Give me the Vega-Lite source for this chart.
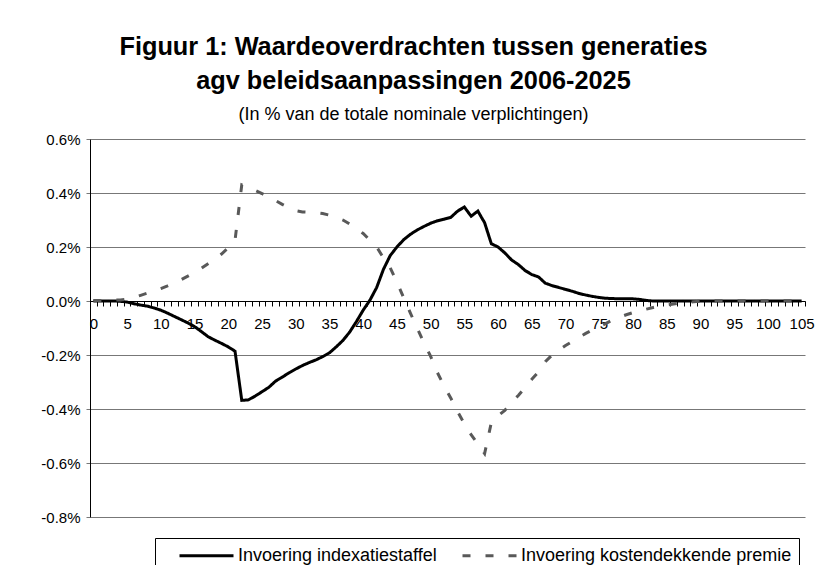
{
  "$schema": "https://vega.github.io/schema/vega-lite/v6.json",
  "width": 715,
  "height": 378,
  "autosize": {"type": "none"},
  "padding": {"left": 90, "top": 139, "right": 20, "bottom": 48},
  "background": "white",
  "title": {
    "text": ["Figuur 1: Waardeoverdrachten tussen generaties", "agv beleidsaanpassingen 2006-2025"],
    "subtitle": "(In % van de totale nominale verplichtingen)",
    "anchor": "middle",
    "frame": "group",
    "dx": -34,
    "font": "Liberation Sans",
    "fontSize": 25.3,
    "fontWeight": "bold",
    "color": "#000000",
    "lineHeight": 34,
    "subtitleFont": "Liberation Sans",
    "subtitleFontSize": 18,
    "subtitleColor": "#000000",
    "subtitlePadding": 12,
    "offset": 8
  },
  "data": {"values": [
    {"x":0,"A":0,"B":0.002},{"x":1,"A":0,"B":0.002},{"x":2,"A":0,"B":0.002},{"x":3,"A":0,"B":0.003},{"x":4,"A":-0.001,"B":0.004},
    {"x":5,"A":-0.004,"B":0.007},{"x":6,"A":-0.01,"B":0.013},{"x":7,"A":-0.015,"B":0.021},{"x":8,"A":-0.019,"B":0.029},{"x":9,"A":-0.026,"B":0.037},
    {"x":10,"A":-0.034,"B":0.046},{"x":11,"A":-0.045,"B":0.056},{"x":12,"A":-0.057,"B":0.067},{"x":13,"A":-0.069,"B":0.079},{"x":14,"A":-0.081,"B":0.092},
    {"x":15,"A":-0.095,"B":0.106},{"x":16,"A":-0.113,"B":0.121},{"x":17,"A":-0.132,"B":0.138},{"x":18,"A":-0.145,"B":0.155},{"x":19,"A":-0.157,"B":0.174},
    {"x":20,"A":-0.17,"B":0.197},{"x":21,"A":-0.186,"B":0.225},{"x":22,"A":-0.368,"B":0.43},{"x":23,"A":-0.366,"B":0.42},{"x":24,"A":-0.352,"B":0.41},
    {"x":25,"A":-0.336,"B":0.398},{"x":26,"A":-0.32,"B":0.385},{"x":27,"A":-0.297,"B":0.372},{"x":28,"A":-0.282,"B":0.358},{"x":29,"A":-0.266,"B":0.345},
    {"x":30,"A":-0.252,"B":0.335},{"x":31,"A":-0.239,"B":0.33},{"x":32,"A":-0.228,"B":0.329},{"x":33,"A":-0.218,"B":0.327},{"x":34,"A":-0.206,"B":0.324},
    {"x":35,"A":-0.192,"B":0.318},{"x":36,"A":-0.17,"B":0.31},{"x":37,"A":-0.146,"B":0.3},{"x":38,"A":-0.115,"B":0.285},{"x":39,"A":-0.076,"B":0.268},
    {"x":40,"A":-0.034,"B":0.25},{"x":41,"A":0.003,"B":0.225},{"x":42,"A":0.05,"B":0.2},{"x":43,"A":0.117,"B":0.16},{"x":44,"A":0.168,"B":0.123},
    {"x":45,"A":0.2,"B":0.07},{"x":46,"A":0.227,"B":0.012},{"x":47,"A":0.247,"B":-0.045},{"x":48,"A":0.263,"B":-0.1},{"x":49,"A":0.276,"B":-0.155},
    {"x":50,"A":0.288,"B":-0.205},{"x":51,"A":0.297,"B":-0.265},{"x":52,"A":0.303,"B":-0.315},{"x":53,"A":0.31,"B":-0.36},{"x":54,"A":0.333,"B":-0.41},
    {"x":55,"A":0.348,"B":-0.455},{"x":56,"A":0.314,"B":-0.495},{"x":57,"A":0.333,"B":-0.53},{"x":58,"A":0.29,"B":-0.565},{"x":59,"A":0.212,"B":-0.45},
    {"x":60,"A":0.2,"B":-0.425},{"x":61,"A":0.178,"B":-0.405},{"x":62,"A":0.152,"B":-0.375},{"x":63,"A":0.135,"B":-0.35},{"x":64,"A":0.113,"B":-0.32},
    {"x":65,"A":0.098,"B":-0.29},{"x":66,"A":0.089,"B":-0.262},{"x":67,"A":0.066,"B":-0.225},{"x":68,"A":0.057,"B":-0.2},{"x":69,"A":0.05,"B":-0.182},
    {"x":70,"A":0.043,"B":-0.165},{"x":71,"A":0.036,"B":-0.15},{"x":72,"A":0.028,"B":-0.135},{"x":73,"A":0.022,"B":-0.12},{"x":74,"A":0.017,"B":-0.107},
    {"x":75,"A":0.013,"B":-0.095},{"x":76,"A":0.01,"B":-0.083},{"x":77,"A":0.009,"B":-0.07},{"x":78,"A":0.008,"B":-0.06},{"x":79,"A":0.008,"B":-0.051},
    {"x":80,"A":0.008,"B":-0.043},{"x":81,"A":0.006,"B":-0.036},{"x":82,"A":0.002,"B":-0.03},{"x":83,"A":0,"B":-0.024},{"x":84,"A":0,"B":-0.019},
    {"x":85,"A":0,"B":-0.015},{"x":86,"A":0,"B":-0.011},{"x":87,"A":0,"B":-0.008},{"x":88,"A":0,"B":-0.005},{"x":89,"A":0,"B":-0.003},
    {"x":90,"A":0,"B":-0.001},{"x":91,"A":0,"B":0.001},{"x":92,"A":0,"B":0.001},{"x":93,"A":0,"B":0.001},{"x":94,"A":0,"B":0.001},
    {"x":95,"A":0,"B":0.001},{"x":96,"A":0,"B":0.001},{"x":97,"A":0,"B":0.001},{"x":98,"A":0,"B":0.001},{"x":99,"A":0,"B":0.001},
    {"x":100,"A":0,"B":0.001},{"x":101,"A":0,"B":0.001},{"x":102,"A":0,"B":0.001},{"x":103,"A":0,"B":0.001},{"x":104,"A":0,"B":0.001},
    {"x":105,"A":0,"B":0.001}
  ]},
  "transform": [{"fold": ["A", "B"], "as": ["serie", "v"]}],
  "mark": {"type": "line", "strokeWidth": 3},
  "encoding": {
    "x": {
      "field": "x", "type": "quantitative",
      "scale": {"domain": [-0.5, 105.5], "nice": false, "zero": false},
      "axis": {
        "values": [-0.5,0.5,1.5,2.5,3.5,4.5,5.5,6.5,7.5,8.5,9.5,10.5,11.5,12.5,13.5,14.5,15.5,16.5,17.5,18.5,19.5,20.5,21.5,22.5,23.5,24.5,25.5,26.5,27.5,28.5,29.5,30.5,31.5,32.5,33.5,34.5,35.5,36.5,37.5,38.5,39.5,40.5,41.5,42.5,43.5,44.5,45.5,46.5,47.5,48.5,49.5,50.5,51.5,52.5,53.5,54.5,55.5,56.5,57.5,58.5,59.5,60.5,61.5,62.5,63.5,64.5,65.5,66.5,67.5,68.5,69.5,70.5,71.5,72.5,73.5,74.5,75.5,76.5,77.5,78.5,79.5,80.5,81.5,82.5,83.5,84.5,85.5,86.5,87.5,88.5,89.5,90.5,91.5,92.5,93.5,94.5,95.5,96.5,97.5,98.5,99.5,100.5,101.5,102.5,103.5,104.5,105.5],
        "labelExpr": "(datum.value + 0.5) % 5 == 0 ? '' + (datum.value + 0.5) : ''",
        "labelOffset": 3.37,
        "offset": -216,
        "title": null,
        "grid": false,
        "tickSize": 5,
        "tickColor": "#000000",
        "domainColor": "#000000",
        "labelFlush": false,
        "labelOverlap": false,
        "labelBound": false,
        "labelFont": "Liberation Sans",
        "labelFontSize": 15,
        "labelColor": "#000000",
        "labelPadding": 10
      }
    },
    "y": {
      "field": "v", "type": "quantitative",
      "scale": {"domain": [-0.8, 0.6], "nice": false, "zero": false},
      "axis": {
        "values": [-0.8, -0.6, -0.4, -0.2, 0, 0.2, 0.4, 0.6],
        "labelExpr": "(datum.value < 0 ? '-' : '') + format(abs(datum.value), '.1f') + '%'",
        "title": null,
        "grid": true,
        "gridColor": "#777777",
        "gridWidth": 1,
        "domainColor": "#000000",
        "tickColor": "#777777",
        "tickSize": 4,
        "labelFont": "Liberation Sans",
        "labelFontSize": 15,
        "labelColor": "#000000",
        "labelPadding": 6
      }
    },
    "color": {
      "field": "serie", "type": "nominal", "title": null,
      "scale": {"domain": ["A", "B"], "range": ["#000000", "#595959"]},
      "legend": {"orient": "none", "legendX": 65, "legendY": 399, "direction": "horizontal",
        "labelExpr": "datum.label == 'A' ? 'Invoering indexatiestaffel' : 'Invoering kostendekkende premie'"}
    },
    "strokeDash": {
      "field": "serie", "type": "nominal", "title": null,
      "scale": {"domain": ["A", "B"], "range": [[1, 0], [8, 15]]},
      "legend": {"orient": "none", "legendX": 65, "legendY": 399, "direction": "horizontal",
        "labelExpr": "datum.label == 'A' ? 'Invoering indexatiestaffel' : 'Invoering kostendekkende premie'"}
    }
  },
  "config": {
    "view": {"stroke": null},
    "legend": {
      "strokeColor": "#000000",
      "fillColor": "#ffffff",
      "padding": 7,
      "labelFont": "Liberation Sans",
      "labelFontSize": 18,
      "labelColor": "#000000",
      "labelLimit": 0,
      "symbolType": "M-3,0H3",
      "symbolSize": 324,
      "symbolStrokeWidth": 3,
      "symbolOffset": 34,
      "labelOffset": 21,
      "columnPadding": 8
    }
  }
}
